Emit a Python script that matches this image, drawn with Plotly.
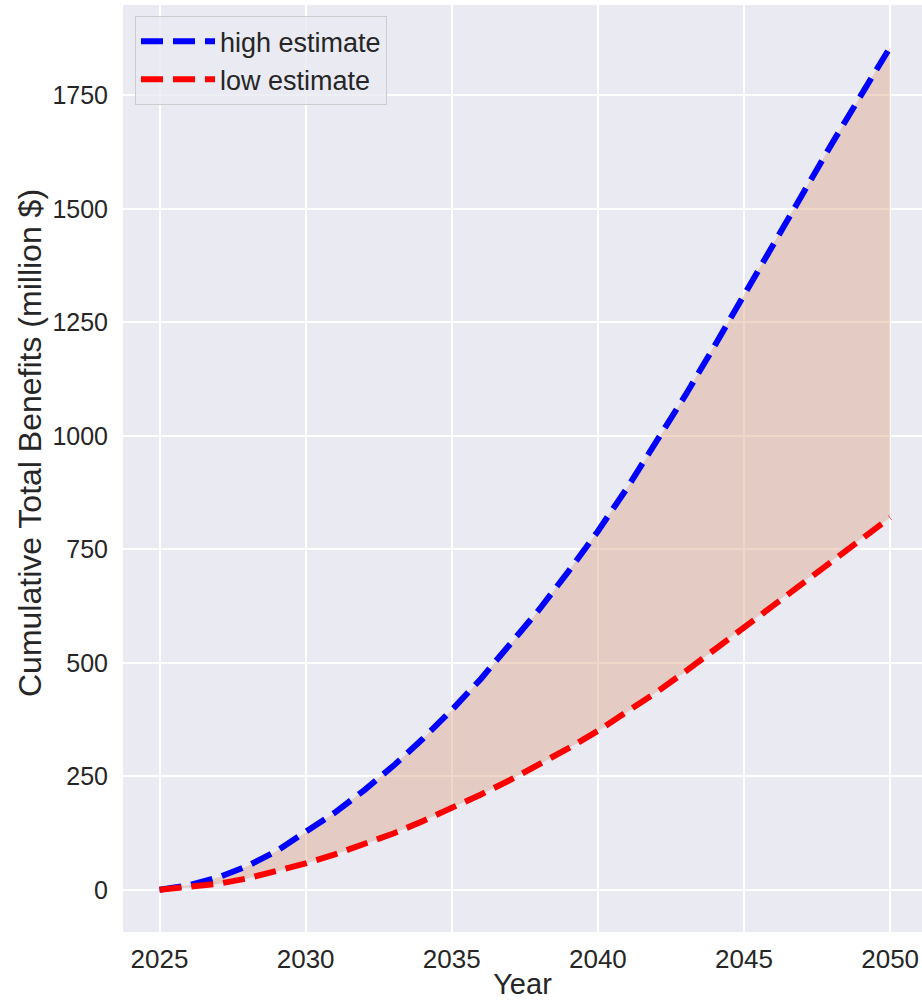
import plotly.graph_objects as go

years = list(range(2025, 2051))
high_estimate = [0, 10, 27, 52, 85, 126, 170, 219, 273, 332, 396, 465, 539, 618, 702,
                 790, 885, 985, 1090, 1199, 1311, 1423, 1534, 1643, 1750, 1856]
low_estimate = [0, 5, 13, 25, 40, 58, 78, 100, 124, 151, 180, 210, 242, 276, 312,
                350, 391, 435, 481, 529, 579, 628, 677, 725, 773, 820]
x_ticks = [2025, 2030, 2035, 2040, 2045, 2050]
y_ticks = [0, 250, 500, 750, 1000, 1250, 1500, 1750]

FONT = "Liberation Sans, Arial, sans-serif"
TXT = "rgb(38,38,38)"

fig = go.Figure()

# shaded band between estimates
fig.add_trace(go.Scatter(
    x=years + years[::-1],
    y=high_estimate + low_estimate[::-1],
    fill="toself",
    fillcolor="rgba(222,166,138,0.45)",
    line=dict(width=0),
    mode="lines",
    hoverinfo="skip",
    showlegend=False,
))

fig.add_trace(go.Scatter(
    x=years, y=high_estimate, mode="lines", name="high estimate",
    line=dict(color="blue", width=6, dash="22px,10px"),
))
fig.add_trace(go.Scatter(
    x=years, y=low_estimate, mode="lines", name="low estimate",
    line=dict(color="red", width=6, dash="22px,10px"),
))

fig.update_layout(
    width=922, height=1000,
    margin=dict(l=123, r=0, t=5, b=68, autoexpand=False),
    paper_bgcolor="white",
    plot_bgcolor="#EAEAF2",
    font=dict(family=FONT, size=26, color=TXT),
    showlegend=True,
    legend=dict(
        x=0.015, y=0.988, xanchor="left", yanchor="top",
        bgcolor="rgba(234,234,242,0.8)",
        bordercolor="rgb(204,204,204)", borderwidth=1,
        font=dict(family=FONT, size=27, color=TXT),
        itemwidth=74,
        tracegroupgap=0,
    ),
    xaxis=dict(
        range=[2023.75, 2051.09],
        tickvals=x_ticks,
        automargin=False,
        showgrid=True, gridcolor="white", gridwidth=1.5,
        zeroline=False, showline=False,
        ticks="outside", ticklen=4, tickcolor="rgba(0,0,0,0)",
        tickfont=dict(size=26, color=TXT),
        title=dict(text="Year", font=dict(size=29, color=TXT), standoff=5),
    ),
    yaxis=dict(
        range=[-93, 1949],
        tickvals=y_ticks,
        automargin=False,
        showgrid=True, gridcolor="white", gridwidth=1.5,
        zeroline=False, showline=False,
        ticks="outside", ticklen=9, tickcolor="rgba(0,0,0,0)",
        tickfont=dict(size=25, color=TXT),
    ),
    annotations=[dict(
        text="Cumulative Total Benefits (million $)",
        xref="paper", yref="paper", x=-0.1164, y=0.5275,
        xanchor="center", yanchor="middle", textangle=-90,
        showarrow=False, font=dict(size=32, color=TXT, family=FONT),
    )],
)

fig.write_html("out.html", config={"displayModeBar": False},
               post_script="document.body.style.margin='0';")
